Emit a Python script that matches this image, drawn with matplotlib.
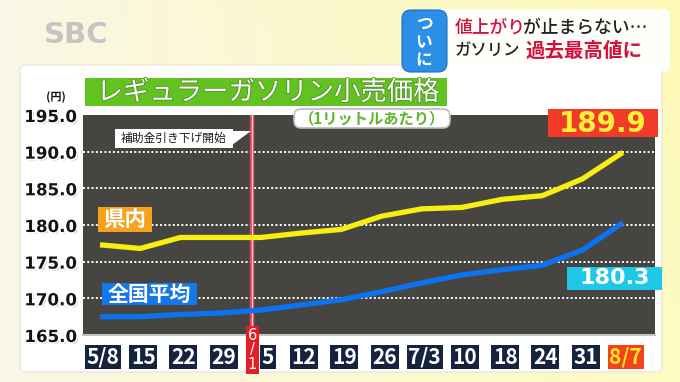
import numpy as np
import matplotlib
matplotlib.use('Agg')
import matplotlib.pyplot as plt
import matplotlib.patheffects as pe
from matplotlib.patches import Rectangle, FancyBboxPatch, Polygon
from matplotlib.transforms import ScaledTranslation

plt.rcParams['font.family'] = ['Noto Sans CJK JP', 'DejaVu Sans']

# ---------------- data ----------------
week_labels = ['5/8', '15', '22', '29', '5', '12', '19', '26', '7/3', '10', '18', '24', '31', '8/7']
prefecture_prices = [177.3, 176.8, 178.3, 178.3, 178.3, 178.9, 179.4, 181.2, 182.2, 182.4, 183.5, 184.0, 186.3, 189.9]
national_prices = [167.5, 167.5, 167.8, 168.0, 168.4, 169.1, 169.8, 170.9, 172.1, 173.2, 173.9, 174.5, 176.6, 180.3]
y_ticks = [165.0, 170.0, 175.0, 180.0, 185.0, 190.0, 195.0]
series_names = ['県内', '全国平均']
event_date_label = '6\n/\n1'
event_position = 3.79
event_text = '補助金引き下げ開始'
title_text = 'レギュラーガソリン小売価格'
subtitle_text = '（1リットルあたり）'
unit_text = '(円)'
headline_1 = ['値上がり', 'が止まらない…']
headline_2 = ['ガソリン', '過去最高値に']
tag_text = 'つ\nい\nに'
logo_text = 'SBC'

W, H = 680, 382
fig = plt.figure(figsize=(W / 100, H / 100), dpi=100)

# ---------------- background (pixel coords) ----------------
bg = fig.add_axes([0, 0, 1, 1], zorder=0)
bg.set_xlim(0, W); bg.set_ylim(H, 0); bg.axis('off')
tx = np.linspace(0, 1, 256)
ty = np.linspace(0, 1, 64)
left_c = np.array([0.975, 0.968, 0.905])
right_c = np.array([0.995, 0.982, 0.77])
grad = left_c + (right_c - left_c) * tx[None, :, None] ** 0.8
grad = grad - np.array([0, 0, 0.05])[None, None, :] * (1 - ty[:, None, None]) * tx[None, :, None]
bg.imshow(np.clip(grad, 0, 1), extent=[0, W, H, 0], aspect='auto', zorder=0)

# white panel
bg.add_patch(FancyBboxPatch((20, 65), 642, 307, boxstyle='round,pad=0,rounding_size=6',
                            fc='white', ec='#ebe8d6', lw=1, zorder=1))

# logo
bg.text(76, 35, logo_text, ha='center', va='center', fontsize=21, fontweight='bold',
        family=['DejaVu Sans'], color='#c4c4c4', zorder=2)

# headline box
bg.add_patch(FancyBboxPatch((438, 9), 232, 62, boxstyle='round,pad=0,rounding_size=6',
                            fc='white', ec='none', alpha=0.95, zorder=2))
bg.add_patch(FancyBboxPatch((402, 10), 45, 62, boxstyle='round,pad=0,rounding_size=9',
                            fc='#2b8fe8', ec='#1a6fc0', lw=0.8, zorder=3))
bg.text(424, 42, tag_text, ha='center', va='center', fontsize=12, fontweight='bold',
        color='white', linespacing=1.0, zorder=4)
bg.text(455, 28, headline_1[0], ha='left', va='center', fontsize=12.8, fontweight='medium',
        color='#d4103c', zorder=4)
bg.text(523, 28, headline_1[1], ha='left', va='center', fontsize=12.8, fontweight='medium',
        color='#222222', zorder=4)
bg.text(455, 51, headline_2[0], ha='left', va='center', fontsize=11.8, fontweight='medium',
        color='#222222', zorder=4)
bg.text(526, 51, headline_2[1], ha='left', va='center', fontsize=14, fontweight='bold',
        color='#d4103c', zorder=4)

# title
bg.add_patch(Rectangle((85, 78), 362, 28, fc='#62c220', ec='none', zorder=2))
bg.text(268, 92.5, title_text, ha='center', va='center', fontsize=19, color='white', zorder=3,
        path_effects=[pe.withStroke(linewidth=1.2, foreground='#4f8f2a')])

# unit
bg.text(56, 97, unit_text, ha='center', va='center', fontsize=8, fontweight='bold',
        color='#111111', zorder=3,
        path_effects=[pe.withStroke(linewidth=2, foreground='white')])

# ---------------- main chart ----------------
ax = fig.add_axes([83 / W, 1 - 335 / H, 572 / W, 220 / H], zorder=2)
ax.set_facecolor('#474542')
x = np.arange(len(week_labels))
ax.set_xlim(-0.423, 13.80)
ax.set_ylim(y_ticks[0], y_ticks[-1])

for v in y_ticks[1:-1]:
    ax.axhline(v, color='white', lw=1.4, ls=(0, (1, 1.2)), zorder=1)

ax.axvline(event_position, color='#e0485a', lw=3.2, zorder=2)
ax.axvline(event_position, color='#ffd2da', lw=0.9, zorder=2)

ax.plot(x, national_prices, color='#0b72f0', lw=3.8, solid_capstyle='butt', zorder=3)
ax.plot(x, prefecture_prices, color='#f7ef10', lw=3.8, solid_capstyle='butt', zorder=4)

for s in ['top', 'left', 'right']:
    ax.spines[s].set_visible(False)
ax.spines['bottom'].set_color('#c4c4c4')
ax.spines['bottom'].set_linewidth(1.5)

ax.set_yticks(y_ticks, [f'{v:.1f}' for v in y_ticks])
ax.tick_params(axis='y', length=0, pad=4.5)
for lbl in ax.get_yticklabels():
    lbl.set_fontfamily(['DejaVu Sans'])
    lbl.set_fontweight('bold')
    lbl.set_fontsize(12)
    lbl.set_color('#141414')
    lbl.set_path_effects([pe.SimplePatchShadow(offset=(1.2, -1.2), shadow_rgbFace='#8a8a8a', alpha=0.7),
                          pe.Stroke(linewidth=2.5, foreground='white'), pe.Normal()])

ax.set_xticks([])
xt = ax.get_xaxis_transform()
for i, lab in enumerate(week_labels):
    dx = 7 if i == 4 else 3
    tr = xt + ScaledTranslation(dx / 100, 0, fig.dpi_scale_trans)
    last = (i == len(week_labels) - 1)
    ax.text(i, -0.1, lab, transform=tr, ha='center', va='center', fontsize=15,
            fontweight='bold', color='#ffe81e' if last else 'white', clip_on=False,
            bbox=dict(boxstyle='square,pad=0.08', fc='#f2421e' if last else '#15233f', ec='none'))

# event date tag
ax.text(event_position, -0.068, event_date_label, transform=xt, ha='center', va='center',
        fontsize=10.5, color='white', linespacing=0.98, clip_on=False, zorder=6,
        family=['DejaVu Sans'],
        bbox=dict(boxstyle='square,pad=0.15', fc='#e61c26', ec='none'))

# ---------------- overlay annotations (pixel coords) ----------------
ov = fig.add_axes([0, 0, 1, 1], zorder=3)
ov.set_xlim(0, W); ov.set_ylim(H, 0); ov.axis('off')

# subtitle
ov.add_patch(FancyBboxPatch((294, 109), 156, 19, boxstyle='round,pad=0,rounding_size=7',
                            fc='white', ec='#b9b9b9', lw=1.2))
ov.text(372, 118.5, subtitle_text, ha='center', va='center', fontsize=11, fontweight='bold',
        color='#5cb82a')

# callout
ov.add_patch(Rectangle((115, 129), 118, 19, fc='white', ec='none'))
ov.add_patch(Polygon([(232, 131), (232, 145), (251, 131)], closed=True, fc='white', ec='none'))
ov.text(174, 138.5, event_text, ha='center', va='center', fontsize=8.5, color='#1e1e1e')

# series labels
ov.add_patch(Rectangle((98, 207), 54, 25, fc='#f5a21c', ec='none'))
ov.text(125, 219.5, series_names[0], ha='center', va='center', fontsize=15.5,
        fontweight='bold', color='white')
ov.add_patch(Rectangle((102, 283), 95, 22, fc='#1478ea', ec='none'))
ov.text(149.5, 294, series_names[1], ha='center', va='center', fontsize=15,
        fontweight='bold', color='white')

# end value labels
ov.add_patch(Rectangle((548, 109), 110, 28, fc='#f23a26', ec='none'))
ov.text(603, 123.5, f'{prefecture_prices[-1]:.1f}', ha='center', va='center', fontsize=20,
        fontweight='bold', family=['DejaVu Sans'], color='#fff03c')
ov.add_patch(Rectangle((567, 267), 95, 23, fc='#1fc8e6', ec='none'))
ov.text(614.5, 278.5, f'{national_prices[-1]:.1f}', ha='center', va='center', fontsize=16,
        fontweight='bold', family=['DejaVu Sans'], color='white')

fig.savefig('out.png', dpi=100)
